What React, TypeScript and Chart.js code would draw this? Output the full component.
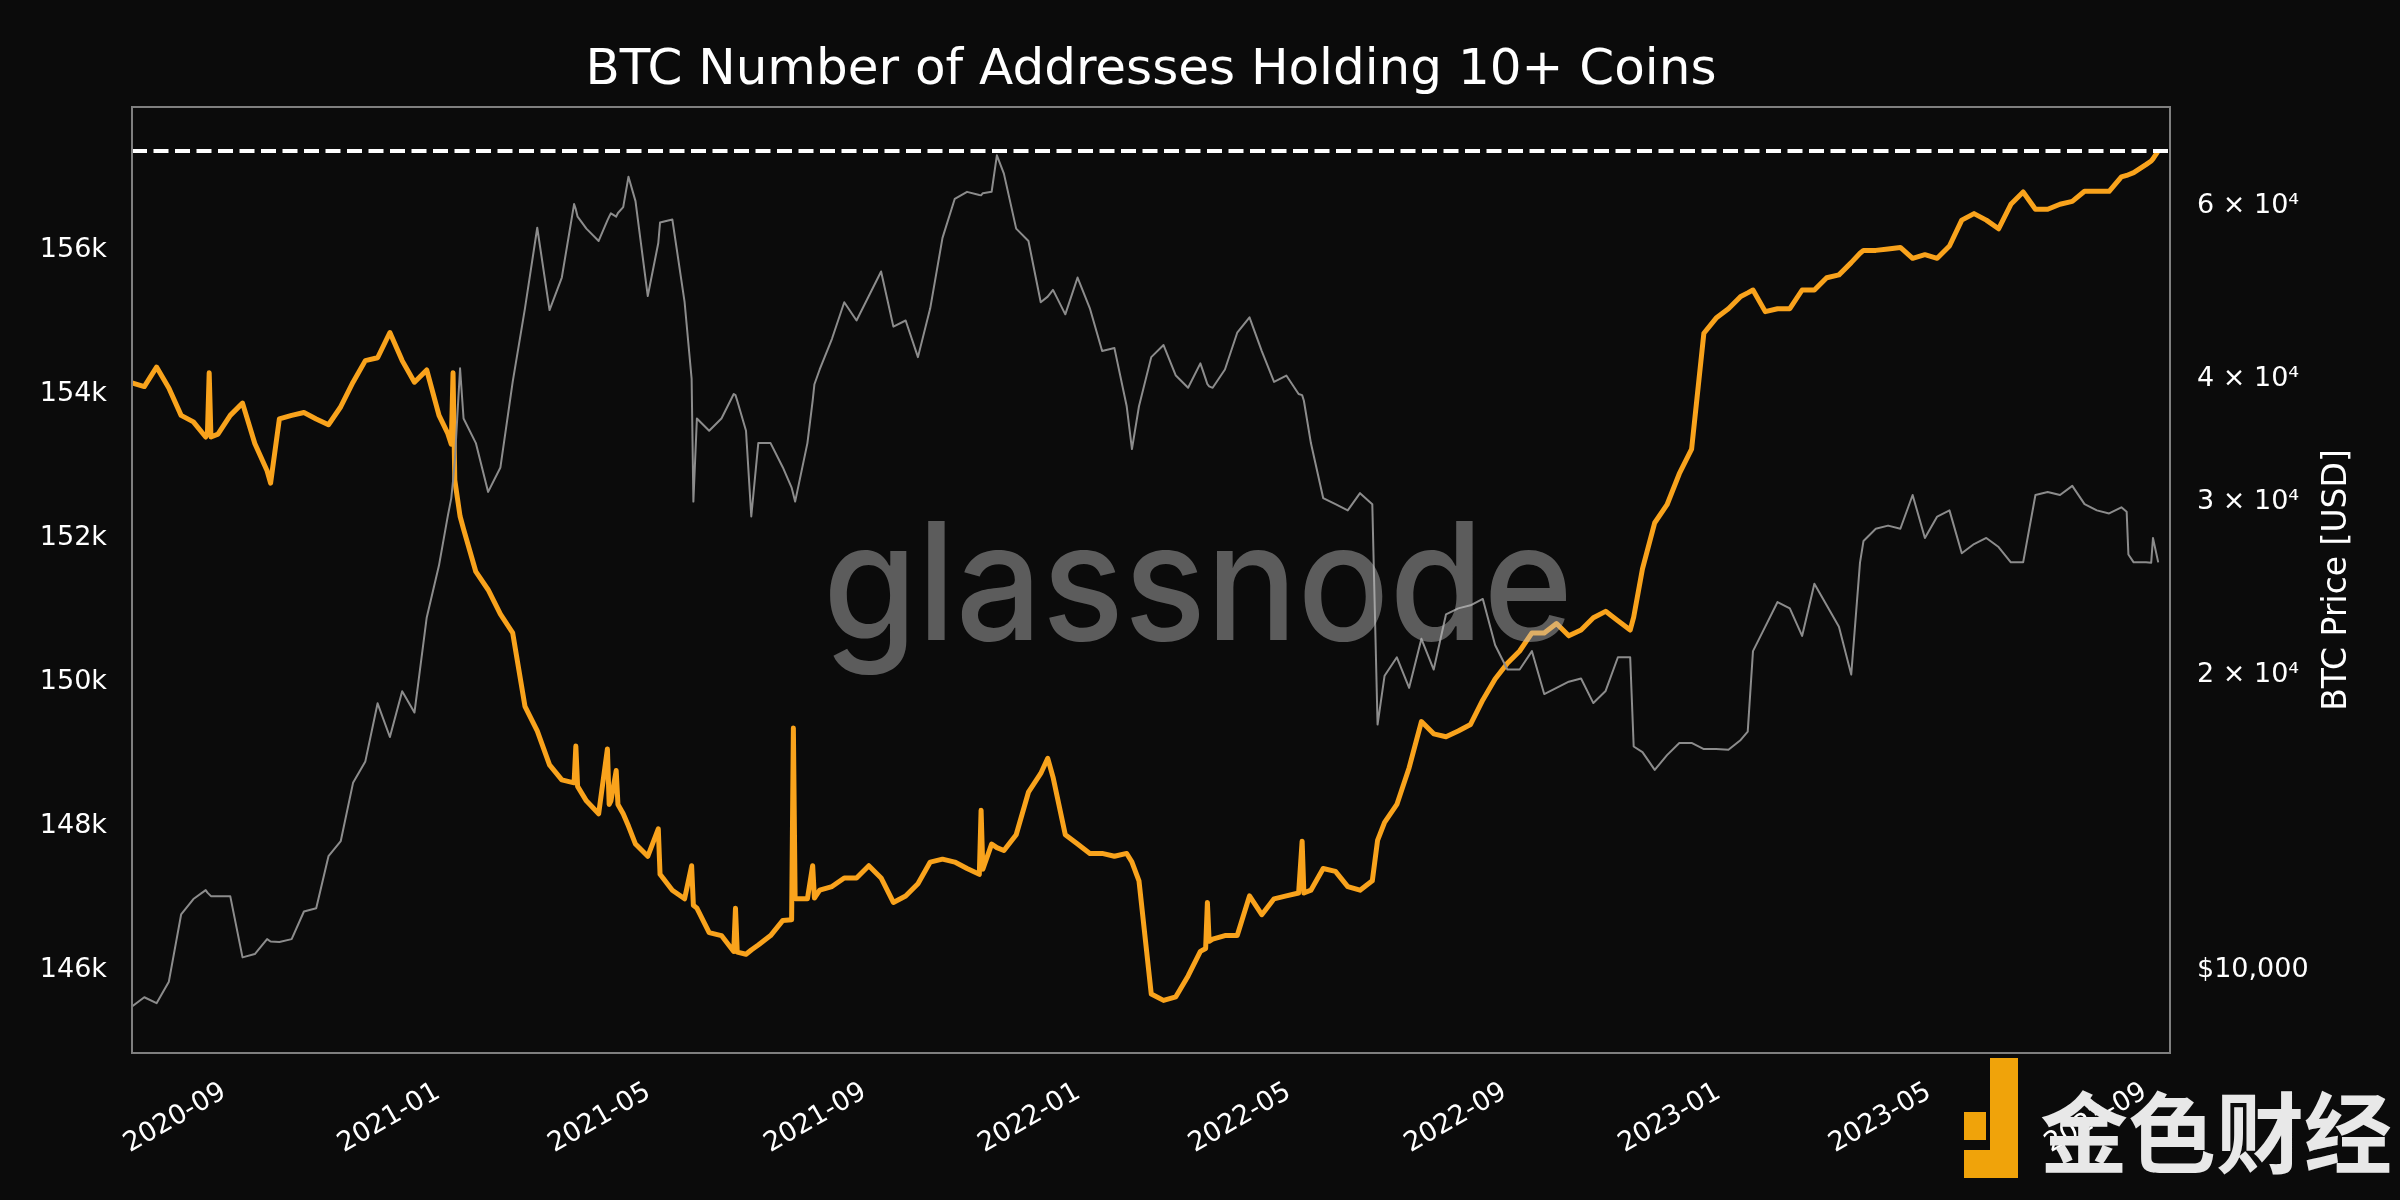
import React, { useEffect, useRef } from 'react';
import { Chart, registerables } from 'chart.js';

Chart.register(...registerables);

// ---------- data ----------
const dates: string[] = [
  '2020-07-06','2020-07-13','2020-07-20','2020-07-27','2020-08-03','2020-08-10','2020-08-17','2020-08-18','2020-08-19','2020-08-20',
  '2020-08-24','2020-08-31','2020-09-07','2020-09-14','2020-09-21','2020-09-23','2020-09-28','2020-10-05','2020-10-12','2020-10-19',
  '2020-10-26','2020-11-02','2020-11-09','2020-11-16','2020-11-23','2020-11-30','2020-12-07','2020-12-14','2020-12-21','2020-12-28',
  '2021-01-02','2021-01-04','2021-01-05','2021-01-06','2021-01-09','2021-01-11','2021-01-18','2021-01-25','2021-02-01','2021-02-08',
  '2021-02-15','2021-02-22','2021-03-01','2021-03-08','2021-03-15','2021-03-16','2021-03-17','2021-03-22','2021-03-29','2021-04-03',
  '2021-04-04','2021-04-05','2021-04-08','2021-04-09','2021-04-12','2021-04-15','2021-04-19','2021-04-26','2021-05-02','2021-05-03',
  '2021-05-10','2021-05-17','2021-05-21','2021-05-22','2021-05-24','2021-05-31','2021-06-07','2021-06-14','2021-06-15','2021-06-16',
  '2021-06-21','2021-06-24','2021-06-28','2021-07-05','2021-07-12','2021-07-17','2021-07-18','2021-07-19','2021-07-26','2021-07-29',
  '2021-07-30','2021-08-02','2021-08-09','2021-08-16','2021-08-23','2021-08-30','2021-09-06','2021-09-13','2021-09-20','2021-09-27',
  '2021-10-04','2021-10-11','2021-10-18','2021-10-25','2021-11-01','2021-11-02','2021-11-03','2021-11-08','2021-11-11','2021-11-15',
  '2021-11-22','2021-11-29','2021-12-06','2021-12-10','2021-12-13','2021-12-20','2021-12-27','2022-01-03','2022-01-10','2022-01-17',
  '2022-01-24','2022-01-27','2022-01-31','2022-02-07','2022-02-14','2022-02-21','2022-02-28','2022-03-07','2022-03-10','2022-03-11',
  '2022-03-12','2022-03-14','2022-03-21','2022-03-28','2022-04-04','2022-04-11','2022-04-18','2022-04-25','2022-05-02','2022-05-04',
  '2022-05-05','2022-05-09','2022-05-16','2022-05-23','2022-05-30','2022-06-06','2022-06-13','2022-06-16','2022-06-20','2022-06-27',
  '2022-07-04','2022-07-11','2022-07-18','2022-07-25','2022-08-01','2022-08-08','2022-08-15','2022-08-22','2022-08-29','2022-09-05',
  '2022-09-12','2022-09-19','2022-09-26','2022-10-03','2022-10-10','2022-10-17','2022-10-24','2022-10-31','2022-11-07','2022-11-09',
  '2022-11-14','2022-11-21','2022-11-28','2022-12-05','2022-12-12','2022-12-19','2022-12-26','2023-01-02','2023-01-09','2023-01-13',
  '2023-01-16','2023-01-23','2023-01-30','2023-02-06','2023-02-13','2023-02-20','2023-02-27','2023-03-06','2023-03-13','2023-03-18',
  '2023-03-20','2023-03-27','2023-04-03','2023-04-10','2023-04-17','2023-04-24','2023-05-01','2023-05-08','2023-05-15','2023-05-22',
  '2023-05-29','2023-06-05','2023-06-12','2023-06-19','2023-06-26','2023-07-03','2023-07-10','2023-07-17','2023-07-24','2023-07-31',
  '2023-08-07','2023-08-14','2023-08-17','2023-08-18','2023-08-21','2023-08-28','2023-08-31','2023-09-01','2023-09-04',
];

const addresses: number[] = [
  154150,154100,154370,154080,153700,153610,153400,153450,154290,153400,
  153440,153700,153870,153310,152930,152760,153650,153700,153740,153650,
  153570,153820,154160,154460,154500,154850,154460,154160,154330,153700,
  153450,153300,154290,152800,152300,152120,151530,151280,150940,150680,
  149660,149320,148850,148640,148600,149110,148550,148350,148170,149070,
  148300,148350,148770,148300,148170,148000,147750,147580,147960,147330,
  147110,146990,147450,146900,146860,146520,146480,146260,146860,146250,
  146220,146280,146350,146480,146690,146700,149360,146990,146990,147450,
  147000,147110,147160,147280,147280,147450,147280,146940,147030,147200,
  147500,147540,147500,147410,147330,148220,147400,147750,147700,147660,
  147880,148470,148730,148940,148680,147880,147750,147620,147620,147580,
  147620,147500,147240,145670,145580,145630,145920,146260,146300,146940,
  146400,146430,146480,146480,147030,146770,146990,147030,147070,147790,
  147070,147110,147410,147370,147160,147110,147240,147800,148050,148300,
  148810,149450,149280,149240,149320,149410,149750,150040,150260,150430,
  150680,150680,150810,150640,150720,150890,150980,150850,150720,150900,
  151570,152210,152460,152890,153230,154840,155050,155180,155350,155400,
  155440,155140,155180,155180,155440,155440,155610,155650,155820,155950,
  155990,155990,156010,156030,155880,155930,155880,156050,156410,156500,
  156410,156290,156630,156800,156560,156560,156630,156670,156810,156810,
  156810,157010,157030,157040,157070,157180,157230,157260,157370,
];

const btcPrice: number[] = [
  9190,9390,9260,9740,11400,11820,12070,12000,11950,11900,
  11900,11900,10310,10390,10760,10700,10690,10760,11480,11570,
  13070,13540,15520,16320,18700,17280,19240,18300,22870,25840,
  29000,30250,31500,33000,41000,36450,34410,30690,32500,39720,
  47190,57000,47000,50720,60250,59500,58500,56880,55260,58000,
  58500,58960,58500,59000,59810,64240,60670,48570,55000,57700,
  58120,47870,40000,30000,36450,35420,36450,38610,38500,38000,
  35420,28970,34410,34410,32500,31000,30500,30000,34410,38000,
  39500,40890,43940,47870,45860,48570,51450,45210,45860,42090,
  47190,55660,61000,62000,61550,61500,61800,62000,67550,64710,
  56880,55260,47870,48500,49270,46530,50720,47190,42690,42990,
  37510,33930,37510,42090,43300,40310,39170,41480,40000,39500,
  39300,39170,40890,44570,46200,42690,39720,40310,38610,38500,
  38000,34410,30250,29820,29390,30600,29820,17790,19950,20830,
  19390,21750,20240,23030,23360,23530,23880,21440,20240,20240,
  21130,19110,19390,19670,19820,18710,19250,20830,20830,16900,
  16680,16000,16560,17040,17040,16800,16800,16770,17160,17500,
  21130,22380,23710,23360,21900,24750,23530,22380,20000,26000,
  27360,28150,28360,28150,30470,27550,28970,29390,26580,27160,
  27550,26970,26020,26020,30470,30690,30470,31130,29820,29390,
  29180,29600,29300,26500,26020,26020,26000,27550,26020,
];

const xTickMonths: string[] = ['2020-09','2021-01','2021-05','2021-09','2022-01','2022-05','2022-09','2023-01','2023-05','2023-09'];
const leftTickValues: number[] = [146000,148000,150000,152000,154000,156000];
const rightTickValues: number[] = [10000,20000,30000,40000,60000];
const rightTickLabels: string[] = ['$10,000','2 \u00d7 10\u2074','3 \u00d7 10\u2074','4 \u00d7 10\u2074','6 \u00d7 10\u2074'];
const xRange: string[] = ['2020-07-06T00:00:00Z','2023-09-10T17:00:00Z'];
const leftRange: number[] = [144850, 157980];
const rightRange: number[] = [8240, 75640];
const titleText = 'BTC Number of Addresses Holding 10+ Coins';
const rightAxisTitle = 'BTC Price [USD]';
const watermarkText = 'glassnode';
const logoText = '\u91d1\u8272\u8d22\u7ecf';

// ---------- helpers ----------
const toMs = (d: string) => Date.parse(d.length === 10 ? d + 'T00:00:00Z' : d);
const FONT = '"DejaVu Sans", sans-serif';
const WM_FONT = 'Inter, "Open Sans", sans-serif';
const BG = '#0b0b0b';
const ORANGE = '#f9a31c';
const GREY = '#8c8c8c';

const decorPlugin = {
  id: 'decor',
  beforeDraw(chart: any) {
    const { ctx, width, height } = chart;
    ctx.save();
    ctx.fillStyle = BG;
    ctx.fillRect(0, 0, width, height);
    ctx.restore();
  },
  afterDatasetsDraw(chart: any) {
    const { ctx, chartArea } = chart;
    ctx.save();
    // watermark: fit width 750px and x-height 89px
    ctx.font = `500 100px ${WM_FONT}`;
    const w100 = ctx.measureText(watermarkText).width;
    const size = (100 * 750) / w100;
    ctx.font = `500 ${size}px ${WM_FONT}`;
    const xh = ctx.measureText('x').actualBoundingBoxAscent || size * 0.54;
    const sy = 89 / xh;
    ctx.translate(1198, 640);
    ctx.scale(1, sy);
    ctx.fillStyle = 'rgba(190,190,190,0.45)';
    ctx.textAlign = 'center';
    ctx.textBaseline = 'alphabetic';
    ctx.fillText(watermarkText, 0, 0);
    ctx.setTransform(1, 0, 0, 1, 0, 0);
    // frame
    ctx.strokeStyle = '#7f7f7f';
    ctx.lineWidth = 2;
    ctx.strokeRect(chartArea.left, chartArea.top, chartArea.right - chartArea.left, chartArea.bottom - chartArea.top);
    ctx.restore();
  },
  afterDraw(chart: any) {
    const { ctx, chartArea } = chart;
    ctx.save();
    ctx.fillStyle = '#ffffff';
    // title
    ctx.font = `50px ${FONT}`;
    ctx.textAlign = 'center';
    ctx.textBaseline = 'alphabetic';
    ctx.fillText(titleText, (chartArea.left + chartArea.right) / 2, 84);
    // right axis title
    ctx.save();
    ctx.translate(2337, (chartArea.top + chartArea.bottom) / 2);
    ctx.rotate(-Math.PI / 2);
    ctx.font = `33px ${FONT}`;
    ctx.textAlign = 'center';
    ctx.textBaseline = 'middle';
    ctx.fillText(rightAxisTitle, 0, 0);
    ctx.restore();
    // logo (bottom right)
    ctx.fillStyle = '#f0a30a';
    ctx.fillRect(1990, 1058, 28, 120);
    ctx.fillRect(1964, 1150, 54, 28);
    ctx.fillRect(1964, 1112, 22, 28);
    ctx.fillStyle = '#e8e8e8';
    ctx.font = `bold 88px "Noto Sans CJK SC", sans-serif`;
    ctx.textAlign = 'left';
    ctx.textBaseline = 'alphabetic';
    ctx.fillText(logoText, 2040, 1166);
    ctx.restore();
  },
};

export default function App() {
  const canvasRef = useRef<HTMLCanvasElement | null>(null);

  useEffect(() => {
    const canvas = canvasRef.current;
    if (!canvas) return;
    const xMin = toMs(xRange[0]);
    const xMax = toMs(xRange[1]);
    const ath = Math.max(...addresses);
    const xTickValues = xTickMonths.map((m) => toMs(m + '-01'));

    const chart = new Chart(canvas, {
      type: 'line',
      data: {
        datasets: [
          {
            label: 'ATH',
            data: [{ x: xMin, y: ath }, { x: xMax, y: ath }],
            yAxisID: 'yAddr',
            borderColor: '#ffffff',
            borderWidth: 4,
            borderDash: [15, 6.5],
            pointRadius: 0,
            order: 0,
          },
          {
            label: 'BTC Price',
            data: dates.map((d, i) => ({ x: toMs(d), y: btcPrice[i] })),
            yAxisID: 'yPrice',
            borderColor: GREY,
            borderWidth: 2,
            borderJoinStyle: 'round',
            pointRadius: 0,
            tension: 0,
            order: 1,
          },
          {
            label: 'Addresses with balance >= 10',
            data: dates.map((d, i) => ({ x: toMs(d), y: addresses[i] })),
            yAxisID: 'yAddr',
            borderColor: ORANGE,
            borderWidth: 5,
            borderJoinStyle: 'round',
            pointRadius: 0,
            tension: 0,
            order: 2,
          },
        ],
      },
      options: {
        animation: false,
        responsive: false,
        maintainAspectRatio: false,
        devicePixelRatio: 1,
        layout: { padding: { left: 0, right: 0, top: 107, bottom: 0 } },
        plugins: {
          legend: { display: false },
          tooltip: { enabled: false },
          title: { display: false },
        },
        scales: {
          x: {
            type: 'linear',
            min: xMin,
            max: xMax,
            bounds: 'data',
            grid: { display: false },
            border: { display: false },
            afterBuildTicks: (s: any) => {
              s.ticks = xTickValues.map((v) => ({ value: v }));
            },
            afterFit: (s: any) => {
              s.height = 147;
            },
            ticks: {
              autoSkip: false,
              minRotation: 30,
              maxRotation: 30,
              padding: 15,
              labelOffset: -8,
              color: '#ffffff',
              font: { family: FONT, size: 27 },
              callback: (_v: any, i: number) => xTickMonths[i],
            },
          },
          yAddr: {
            type: 'linear',
            position: 'left',
            min: leftRange[0],
            max: leftRange[1],
            bounds: 'data',
            grid: { display: false },
            border: { display: false },
            afterBuildTicks: (s: any) => {
              s.ticks = leftTickValues.map((v) => ({ value: v }));
            },
            afterFit: (s: any) => {
              s.width = 132;
            },
            ticks: {
              padding: 17,
              color: '#ffffff',
              font: { family: FONT, size: 27 },
              callback: (v: any) => `${Math.round(Number(v) / 1000)}k`,
            },
          },
          yPrice: {
            type: 'logarithmic',
            position: 'right',
            min: rightRange[0],
            max: rightRange[1],
            bounds: 'data',
            grid: { display: false },
            border: { display: false },
            afterBuildTicks: (s: any) => {
              s.ticks = rightTickValues.map((v) => ({ value: v }));
            },
            afterFit: (s: any) => {
              s.width = 230;
            },
            ticks: {
              padding: 19,
              color: '#ffffff',
              font: { family: FONT, size: 27 },
              callback: (_v: any, i: number) => rightTickLabels[i],
            },
          },
        },
      },
      plugins: [decorPlugin],
    } as any);

    return () => chart.destroy();
  }, []);

  return (
    <div style={{ position: 'fixed', left: 0, top: 0, width: 2400, height: 1200, background: BG }}>
      <canvas ref={canvasRef} width={2400} height={1200} style={{ display: 'block', width: 2400, height: 1200 }} />
    </div>
  );
}
